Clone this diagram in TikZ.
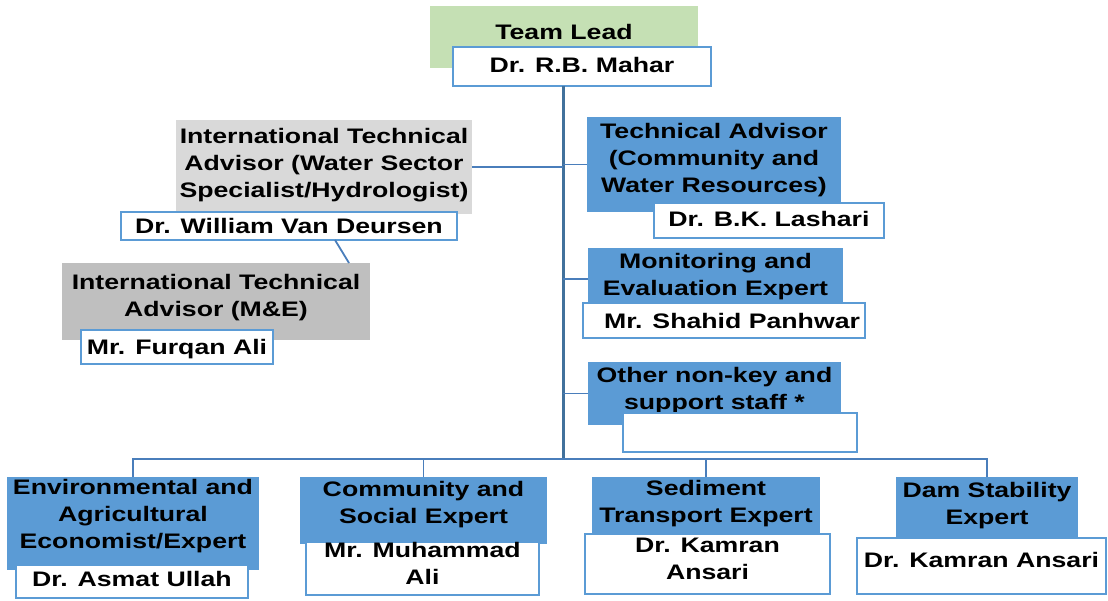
\documentclass[tikz,border=0pt]{standalone}
\usepackage{fontspec}
\newfontfamily\orgfont[FakeStretch=1.27]{Liberation Sans}
\definecolor{leadgreen}{HTML}{C5E0B4}
\definecolor{advgray}{HTML}{D9D9D9}
\definecolor{megray}{HTML}{BFBFBF}
\definecolor{roleblue}{HTML}{5B9BD5}
\definecolor{linkblue}{HTML}{4A7EBB}
\definecolor{trunkblue}{HTML}{41719C}
\tikzset{
    box/.style={inner sep=0, outer sep=0},
    lead/.style={box, fill=leadgreen},
    advisor/.style={box, fill=advgray},
    meadvisor/.style={box, fill=megray},
    role/.style={box, fill=roleblue},
    person/.style={box, fill=white, draw=roleblue, line width=1.6pt},
    txt/.style={inner sep=0, align=center, font=\orgfont\bfseries\fontsize{21}{27}\selectfont},
    link/.style={draw=linkblue, line width=1.8pt},
    trunk/.style={draw=trunkblue, line width=3pt}
}
% name, style, left, top, right, bottom, text lift, text
\newcommand{\orgbox}[8]{
    \pgfmathsetmacro{\boxw}{#5-#3}
    \pgfmathsetmacro{\boxh}{#6-#4}
    \node[#2, minimum width=\boxw pt, minimum height=\boxh pt] (#1) at ({(#3+#5)/2},{(#4+#6)/2}) {};
    \node[txt] (#1-txt) at ([yshift=#7pt]#1.center) {#8};
}
\begin{document}
\begin{tikzpicture}[x=1pt,y=-1pt]
    \useasboundingbox (0,0) rectangle (1108,600);

    % head of the team
    \orgbox{lead}{lead}{430}{6}{698}{68}{5}{Team Lead}
    \orgbox{mahar}{person}{453}{47}{711}{86}{2}{Dr. R.B. Mahar}

    % international advisors
    \orgbox{wsadv}{advisor}{176}{120}{472}{214}{2}{International Technical\\Advisor (Water Sector\\Specialist/Hydrologist)}
    \orgbox{deursen}{person}{121}{212}{457}{240}{0}{Dr. William Van Deursen}
    \orgbox{meadv}{meadvisor}{62}{263}{370}{340}{4}{International Technical\\Advisor (M\&E)}
    \orgbox{furqan}{person}{81}{330}{273}{364}{-2}{Mr. Furqan Ali}

    % key staff on the right
    \orgbox{techadv}{role}{587}{117}{841}{212}{4}{Technical Advisor\\(Community and\\Water Resources)}
    \orgbox{lashari}{person}{654}{203}{884}{238}{2}{Dr. B.K. Lashari}
    \orgbox{monitor}{role}{588}{248}{843}{310}{2}{Monitoring and\\Evaluation Expert}
    \orgbox{panhwar}{person}{583}{303}{865}{338}{0}{\hspace{16pt}Mr. Shahid Panhwar}
    \orgbox{support}{role}{588}{362}{841}{425}{2.5}{Other non-key and\\support staff *}
    \orgbox{supportname}{person}{623}{413}{857}{452}{0}{}

    % experts in the bottom row
    \orgbox{envecon}{role}{7}{477}{259}{570}{7}{Environmental and\\Agricultural\\Economist/Expert}
    \orgbox{ullah}{person}{16}{565}{248}{598}{3}{Dr. Asmat Ullah}
    \orgbox{social}{role}{300}{477}{547}{544}{6}{Community and\\Social Expert}
    \orgbox{muhammad}{person}{306}{542}{539}{595}{5}{Mr. Muhammad\\Ali}
    \orgbox{sediment}{role}{592}{477}{820}{533}{1}{Sediment\\Transport Expert}
    \orgbox{kamran}{person}{585}{534}{830}{594}{5}{Dr. Kamran\\Ansari}
    \orgbox{dam}{role}{896}{477}{1078}{537}{1}{Dam Stability\\Expert}
    \orgbox{ansari}{person}{857}{538}{1106}{594}{6}{Dr. Kamran Ansari}

    % connectors
    \coordinate (bus) at (563,459);
    \draw[trunk] (mahar.south -| bus) -- (bus);
    \draw[link] (wsadv.east) -- (wsadv.east -| bus);
    \draw[link] (bus |- techadv.west) -- (techadv.west);
    \draw[link] (bus |- monitor.west) -- (monitor.west);
    \draw[link] (bus |- support.west) -- (support.west);
    \draw[link] ([xshift=46pt]deursen.south) -- ([xshift=133pt]meadv.north);
    \draw[link] (envecon.north) |- (bus) -| (dam.north);
    \draw[link] (social.north) -- (social.north |- bus);
    \draw[link] (sediment.north) -- (sediment.north |- bus);
\end{tikzpicture}
\end{document}
